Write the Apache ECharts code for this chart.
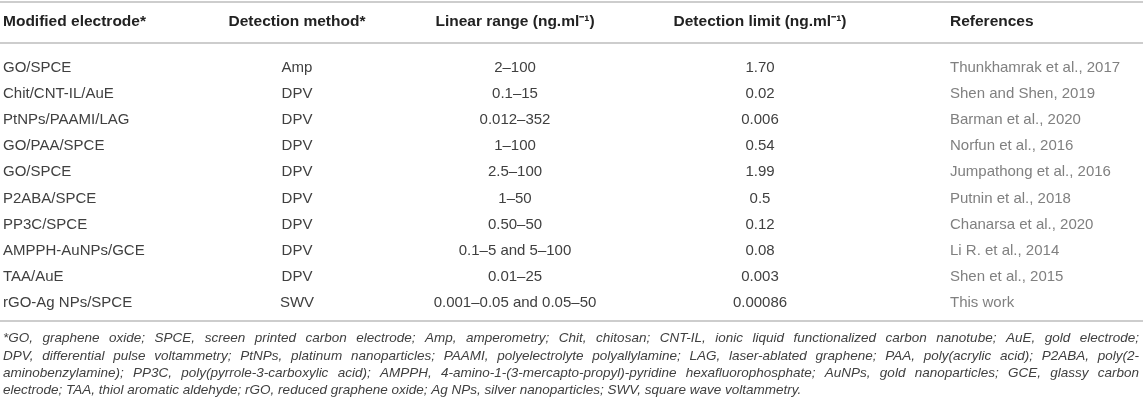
<!DOCTYPE html>
<html>
<head>
<meta charset="utf-8">
<script src="https://cdn.jsdelivr.net/npm/echarts@6/dist/echarts.min.js"></script>
<style>
html, body { margin: 0; padding: 0; background: #fff; }
#main { width: 1143px; height: 413px; }
</style>
</head>
<body>
<div id="main"></div>
<script type="text/javascript">
// table content
var headers = ['Modified electrode*', 'Detection method*', 'Linear range (ng.ml\u207B\u00B9)', 'Detection limit (ng.ml\u207B\u00B9)', 'References'];
var electrodes = ['GO/SPCE', 'Chit/CNT-IL/AuE', 'PtNPs/PAAMI/LAG', 'GO/PAA/SPCE', 'GO/SPCE', 'P2ABA/SPCE', 'PP3C/SPCE', 'AMPPH-AuNPs/GCE', 'TAA/AuE', 'rGO-Ag NPs/SPCE'];
var methods = ['Amp', 'DPV', 'DPV', 'DPV', 'DPV', 'DPV', 'DPV', 'DPV', 'DPV', 'SWV'];
var linearRanges = ['2\u2013100', '0.1\u201315', '0.012\u2013352', '1\u2013100', '2.5\u2013100', '1\u201350', '0.50\u201350', '0.1\u20135 and 5\u2013100', '0.01\u201325', '0.001\u20130.05 and 0.05\u201350'];
var detectionLimits = ['1.70', '0.02', '0.006', '0.54', '1.99', '0.5', '0.12', '0.08', '0.003', '0.00086'];
var references = ['Thunkhamrak et al., 2017', 'Shen and Shen, 2019', 'Barman et al., 2020', 'Norfun et al., 2016', 'Jumpathong et al., 2016', 'Putnin et al., 2018', 'Chanarsa et al., 2020', 'Li R. et al., 2014', 'Shen et al., 2015', 'This work'];
var footnoteLines = [
    '*GO, graphene oxide; SPCE, screen printed carbon electrode; Amp, amperometry; Chit, chitosan; CNT-IL, ionic liquid functionalized carbon nanotube; AuE, gold electrode;',
    'DPV, differential pulse voltammetry; PtNPs, platinum nanoparticles; PAAMI, polyelectrolyte polyallylamine; LAG, laser-ablated graphene; PAA, poly(acrylic acid); P2ABA, poly(2-',
    'aminobenzylamine); PP3C, poly(pyrrole-3-carboxylic acid); AMPPH, 4-amino-1-(3-mercapto-propyl)-pyridine hexafluorophosphate; AuNPs, gold nanoparticles; GCE, glassy carbon',
    'electrode; TAA, thiol aromatic aldehyde; rGO, reduced graphene oxide; Ag NPs, silver nanoparticles; SWV, square wave voltammetry.'
];

var dom = document.getElementById('main');
var myChart = echarts.init(dom);

var FONT = '"Liberation Sans", Arial, sans-serif';
var colX = [3, 297, 515, 760, 950];
var colAlign = ['left', 'center', 'center', 'center', 'left'];
var headerY = 22, firstRowY = 67.5, rowStep = 26.2;
var lineColor = '#bcbcbc';
var leftX = 3, rightX = 1139;

var graphics = [];

function hline(y) {
    graphics.push({
        type: 'line',
        shape: { x1: 0, y1: y, x2: 1143, y2: y },
        style: { stroke: lineColor, lineWidth: 1.6 }
    });
}

function cell(txt, col, y, font, color) {
    graphics.push({
        type: 'text',
        x: colX[col],
        y: y,
        style: {
            text: txt,
            font: font,
            fill: color,
            align: colAlign[col],
            verticalAlign: 'middle'
        }
    });
}

hline(2);
hline(43);

for (var h = 0; h < headers.length; h++) {
    cell(headers[h], h, headerY, 'bold 15.5px ' + FONT, '#222');
}

var columns = [electrodes, methods, linearRanges, detectionLimits, references];
for (var r = 0; r < electrodes.length; r++) {
    var y = firstRowY + r * rowStep;
    for (var c = 0; c < columns.length; c++) {
        cell(columns[c][r], c, y, '15px ' + FONT, c === 4 ? '#808080' : '#404040');
    }
}

hline(321);

// footnote, justified like the source
var footFont = 'italic 13.5px ' + FONT;
var ctx = document.createElement('canvas').getContext('2d');
ctx.font = footFont;
var footY = 338.5, footStep = 17.4;
for (var i = 0; i < footnoteLines.length; i++) {
    var words = footnoteLines[i].split(' ');
    var widths = words.map(function (w) { return ctx.measureText(w).width; });
    var sum = widths.reduce(function (a, b) { return a + b; }, 0);
    var last = i === footnoteLines.length - 1;
    var gap = last ? ctx.measureText(' ').width : (rightX - leftX - sum) / (words.length - 1);
    var x = leftX;
    for (var k = 0; k < words.length; k++) {
        graphics.push({
            type: 'text',
            x: x,
            y: footY + i * footStep,
            style: { text: words[k], font: footFont, fill: '#404040', align: 'left', verticalAlign: 'middle' }
        });
        x += widths[k] + gap;
    }
}

option = {
    backgroundColor: '#fff',
    animation: false,
    graphic: graphics
};

if (option && typeof option === "object") {
    myChart.setOption(option, true);
}
</script>
</body>
</html>
